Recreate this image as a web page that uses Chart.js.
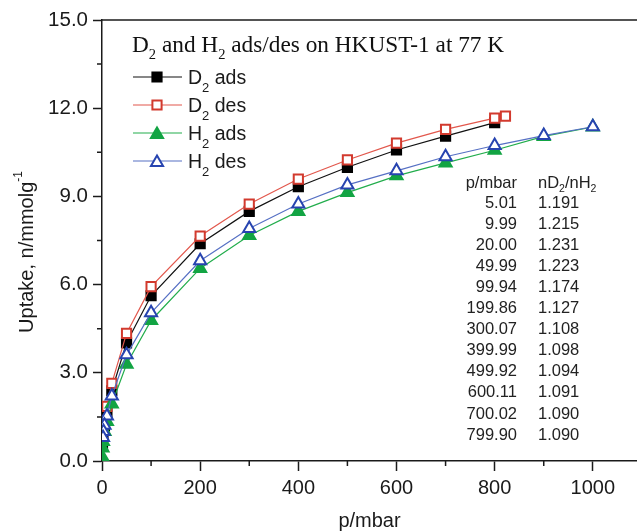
<!DOCTYPE html>
<html>
<head>
<meta charset="utf-8">
<script src="https://cdn.jsdelivr.net/npm/chart.js@4/dist/chart.umd.min.js"></script>
<style>
  html, body { margin: 0; padding: 0; background: #fff; overflow: hidden; }
  #wrap { width: 637px; height: 531px; position: relative; overflow: hidden; }
  #c { position: absolute; left: 0; top: 0; }
</style>
</head>
<body>
<div id="wrap"><canvas id="c" width="646" height="531"></canvas></div>
<script>
// Pressure (mbar) and uptake (mmol/g) for each isotherm branch
const d2AdsP = [1, 2, 5, 10, 20, 50, 100, 200, 300, 400, 500, 600, 700, 800];
const d2AdsN = [0.55, 0.85, 1.19, 1.63, 2.39, 4.02, 5.62, 7.39, 8.49, 9.33, 9.99, 10.58, 11.05, 11.51];

const d2DesP = [822, 800, 700, 600, 500, 400, 300, 200, 100, 50, 20, 10, 5];
const d2DesN = [11.73, 11.66, 11.28, 10.81, 10.24, 9.59, 8.74, 7.65, 5.93, 4.34, 2.64, 1.86, 1.35];

const h2AdsP = [0.5, 1, 2, 5, 10, 20, 50, 100, 200, 300, 400, 500, 600, 700, 800, 900, 1000];
const h2AdsN = [0.14, 0.44, 0.66, 1.00, 1.34, 1.94, 3.29, 4.78, 6.55, 7.67, 8.49, 9.13, 9.70, 10.14, 10.57, 11.04, 11.36];

const h2DesP = [1000, 900, 800, 700, 600, 500, 400, 300, 200, 100, 50, 20, 10, 5, 3, 2];
const h2DesN = [11.37, 11.07, 10.73, 10.35, 9.87, 9.39, 8.74, 7.91, 6.81, 5.04, 3.61, 2.21, 1.53, 1.22, 1.00, 0.80];

// Isotope selectivity table
const tableP = ['5.01', '9.99', '20.00', '49.99', '99.94', '199.86', '300.07', '399.99', '499.92', '600.11', '700.02', '799.90'];
const tableRatio = ['1.191', '1.215', '1.231', '1.223', '1.174', '1.127', '1.108', '1.098', '1.094', '1.091', '1.090', '1.090'];

// Axis ticks
const xMajorTicks = [0, 200, 400, 600, 800, 1000];
const xMinorTicks = [100, 300, 500, 700, 900];
const yMajorTicks = [0, 3, 6, 9, 12, 15];
const yMinorTicks = [1.5, 4.5, 7.5, 10.5, 13.5];

const toPoints = (p, n) => p.map((v, i) => ({ x: v, y: n[i] }));

const SANS = '"Liberation Sans", Arial, sans-serif';
const SERIF = '"Liberation Serif", "Times New Roman", serif';
const INK = '#1a1a1a';
const VISIBLE_W = 637;

const series = [
  { label: ['D', '2', ' ads'], data: toPoints(d2AdsP, d2AdsN), line: '#111111', border: '#000000', fill: '#000000', style: 'rect', radius: 6.5, order: 4 },
  { label: ['D', '2', ' des'], data: toPoints(d2DesP, d2DesN), line: '#e2574c', border: '#d23a2e', fill: '#ffffff', style: 'rect', radius: 6.5, order: 3 },
  { label: ['H', '2', ' ads'], data: toPoints(h2AdsP, h2AdsN), line: '#22ad4c', border: '#12a443', fill: '#12a443', style: 'triangle', radius: 7, order: 2 },
  { label: ['H', '2', ' des'], data: toPoints(h2DesP, h2DesN), line: '#5670c4', border: '#2744b0', fill: '#ffffff', style: 'triangle', radius: 7, order: 1 }
];

// Draws text runs where some pieces are subscripts / superscripts
function drawRuns(ctx, runs, x, y) {
  let cx = x;
  for (const r of runs) {
    ctx.font = r.font;
    ctx.fillText(r.t, cx, y + (r.dy || 0));
    cx += ctx.measureText(r.t).width;
  }
  return cx;
}

const overlay = {
  id: 'overlay',
  afterDraw(chart) {
    const ctx = chart.ctx;
    const xs = chart.scales.x, ys = chart.scales.y;
    const area = chart.chartArea;
    ctx.save();

    // top frame line
    ctx.strokeStyle = INK;
    ctx.lineWidth = 1.5;
    ctx.beginPath();
    ctx.moveTo(area.left, area.top);
    ctx.lineTo(chart.width, area.top);
    ctx.stroke();

    // minor ticks
    ctx.lineWidth = 1.5;
    ctx.beginPath();
    for (const v of xMinorTicks) {
      const px = xs.getPixelForValue(v);
      ctx.moveTo(px, area.bottom);
      ctx.lineTo(px, area.bottom + 5);
    }
    for (const v of yMinorTicks) {
      const py = ys.getPixelForValue(v);
      ctx.moveTo(area.left, py);
      ctx.lineTo(area.left - 5, py);
    }
    ctx.stroke();

    // axis titles
    ctx.fillStyle = INK;
    ctx.textBaseline = 'middle';
    ctx.textAlign = 'center';
    ctx.font = '20px ' + SANS;
    ctx.fillText('p/mbar', (area.left + VISIBLE_W) / 2, 521);

    ctx.save();
    ctx.translate(27, 252);
    ctx.rotate(-Math.PI / 2);
    ctx.textAlign = 'left';
    const yRuns = [
      { t: 'Uptake, n/mmolg', font: '20px ' + SANS },
      { t: '-1', font: '12px ' + SANS, dy: -8 }
    ];
    let w = 0;
    for (const r of yRuns) { ctx.font = r.font; w += ctx.measureText(r.t).width; }
    drawRuns(ctx, yRuns, -w / 2, 0);
    ctx.restore();

    // chart title inside the plot
    ctx.textAlign = 'left';
    ctx.textBaseline = 'alphabetic';
    ctx.fillStyle = '#111';
    const tf = '23.3px ' + SERIF, tsub = '14.5px ' + SERIF;
    drawRuns(ctx, [
      { t: 'D', font: tf }, { t: '2', font: tsub, dy: 7 },
      { t: ' and H', font: tf }, { t: '2', font: tsub, dy: 7 },
      { t: ' ads/des on HKUST-1 at 77 K', font: tf }
    ], 132, 52);

    // legend
    const rowY = [77, 105, 133, 161];
    series.forEach((s, i) => {
      const y = rowY[i];
      ctx.strokeStyle = s.line;
      ctx.lineWidth = 1.2;
      ctx.beginPath();
      ctx.moveTo(133, y);
      ctx.lineTo(182, y);
      ctx.stroke();
      ctx.fillStyle = s.fill;
      ctx.strokeStyle = s.border;
      ctx.lineWidth = 2;
      Chart.helpers.drawPoint(ctx, { pointStyle: s.style, radius: s.radius, rotation: 0, borderWidth: 2 }, 157, y + (s.style === 'triangle' ? 1.5 : 0));
      ctx.fillStyle = INK;
      ctx.textBaseline = 'alphabetic';
      drawRuns(ctx, [
        { t: s.label[0], font: '19.5px ' + SANS },
        { t: s.label[1], font: '13px ' + SANS, dy: 8 },
        { t: s.label[2], font: '19.5px ' + SANS }
      ], 188, y + 7);
    });

    // selectivity table
    ctx.fillStyle = '#222';
    ctx.textBaseline = 'middle';
    const tfont = '16.5px ' + SANS, tsmall = '10.5px ' + SANS;
    ctx.font = tfont;
    ctx.textAlign = 'right';
    ctx.fillText('p/mbar', 517, 183);
    ctx.textAlign = 'left';
    drawRuns(ctx, [
      { t: 'nD', font: tfont }, { t: '2', font: tsmall, dy: 6 },
      { t: '/nH', font: tfont }, { t: '2', font: tsmall, dy: 6 }
    ], 538, 183);
    ctx.font = tfont;
    for (let i = 0; i < tableP.length; i++) {
      const y = 203.5 + i * 21.05;
      ctx.textAlign = 'right';
      ctx.fillText(tableP[i], 517, y);
      ctx.textAlign = 'left';
      ctx.fillText(tableRatio[i], 538, y);
    }
    ctx.restore();
  }
};

new Chart(document.getElementById('c'), {
  type: 'line',
  data: {
    datasets: series.map(s => ({
      label: s.label.join(''),
      data: s.data,
      borderColor: s.line,
      borderWidth: 1.2,
      pointStyle: s.style,
      pointRadius: s.radius,
      pointBorderWidth: 2,
      pointBorderColor: s.border,
      pointBackgroundColor: s.fill,
      tension: 0,
      fill: false,
      order: s.order
    }))
  },
  options: {
    responsive: false,
    animation: false,
    layout: { padding: { top: 20, right: 0, left: 0, bottom: 0 } },
    plugins: { legend: { display: false }, tooltip: { enabled: false }, title: { display: false } },
    scales: {
      x: {
        type: 'linear',
        min: 0, max: 1090,
        afterFit: s => { s.height = 70; s.paddingRight = 0; s.paddingLeft = 0; },
        afterBuildTicks: s => { s.ticks = xMajorTicks.map(v => ({ value: v })); },
        ticks: { color: INK, font: { family: SANS, size: 20 }, padding: 5, maxRotation: 0, callback: v => String(v) },
        grid: { drawOnChartArea: false, drawTicks: true, tickLength: 10, tickColor: INK, tickWidth: 1.5 },
        border: { color: INK, width: 1.5 }
      },
      y: {
        type: 'linear',
        min: 0, max: 15,
        afterFit: s => { s.width = 102; s.paddingTop = 0; s.paddingBottom = 0; },
        afterBuildTicks: s => { s.ticks = yMajorTicks.map(v => ({ value: v })); },
        ticks: { color: INK, font: { family: SANS, size: 20.5 }, padding: 5, callback: v => Number(v).toFixed(1) },
        grid: { drawOnChartArea: false, drawTicks: true, tickLength: 9, tickColor: INK, tickWidth: 1.5 },
        border: { color: INK, width: 1.5 }
      }
    }
  },
  plugins: [overlay]
});
</script>
</body>
</html>
